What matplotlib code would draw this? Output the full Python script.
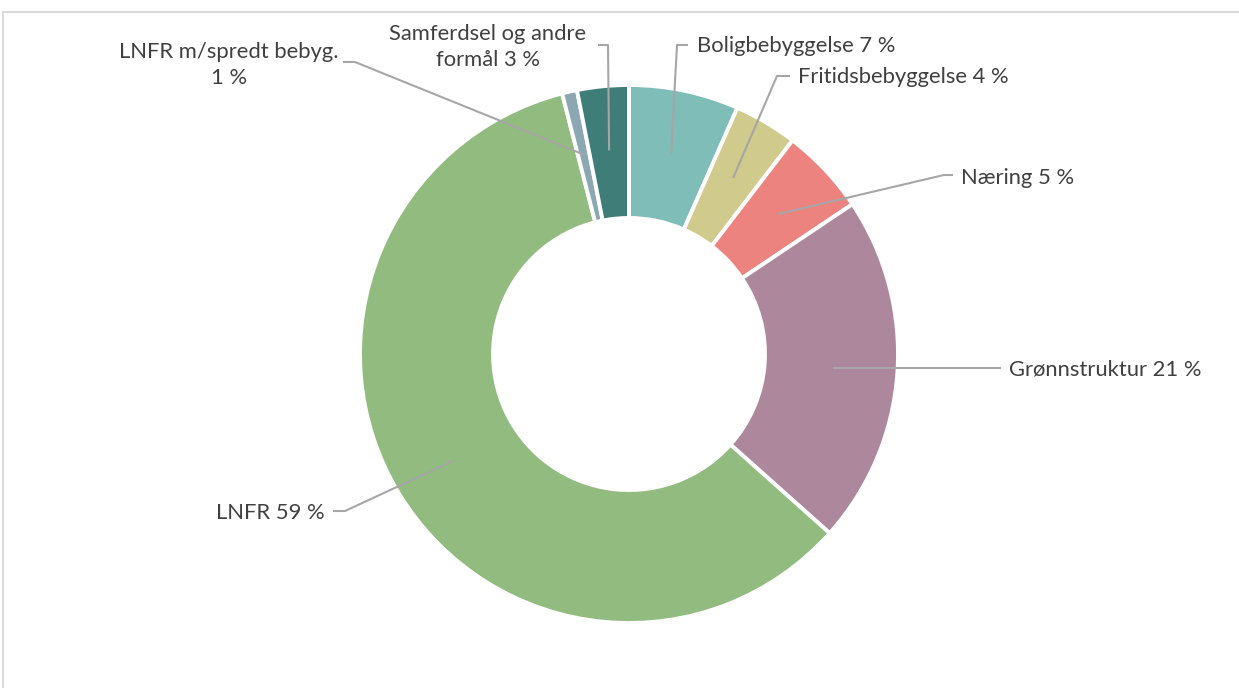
import matplotlib
matplotlib.use("Agg")
import matplotlib.pyplot as plt
import numpy as np

# Land-use shares (percent), clockwise from twelve o'clock
categories = ["Boligbebyggelse", "Fritidsbebyggelse", "Næring", "Grønnstruktur",
              "LNFR", "LNFR m/spredt bebyg.", "Samferdsel og andre formål"]
shares = [6.6, 3.8, 5.2, 21.0, 59.4, 0.9, 3.1]
label_names = ["Boligbebyggelse", "Fritidsbebyggelse", "Næring", "Grønnstruktur",
               "LNFR", "LNFR m/spredt bebyg.\n", "Samferdsel og andre\nformål"]
colors = ["#7fbdb9", "#d0ca8c", "#ec837e", "#ad879c",
          "#91bb7f", "#8ba7b2", "#3e7d78"]

W, H = 1239, 688
fig = plt.figure(figsize=(W / 100, H / 100), dpi=100)
ax = fig.add_axes([0, 0, 1, 1])

def py(y):
    """Convert a top-down pixel row to the upward axis coordinate."""
    return H - y

cx, cy = 629, py(354)
R, ring = 269, 133

wedges, _ = ax.pie(shares, colors=colors, startangle=90, counterclock=False,
                   radius=R, center=(cx, cy),
                   wedgeprops=dict(width=ring, edgecolor="white", linewidth=2.8))

# Label layout: (elbow x, elbow y, end x, text x, text y, ha); None = follow start height
layout = [
    (677, 45, 688, 697, 46, "left"),
    (777, 76, 790, 798, 77, "left"),
    (944, 175, 953, 961, 178, "left"),
    (1001, None, 1001, 1009, 370, "left"),
    (345, 511, 333, 325, 513, "right"),
    (355, 62, 343, 229, 65, "center"),
    (608, 45, 598, 488, 47, "center"),
]

line_col = "#a6a6a6"
text_col = "#404040"
r_mid = R - ring / 2 + 2
for w, name, v, (ex, ey, endx, tx, ty, ha) in zip(wedges, label_names, shares, layout):
    ang = np.deg2rad((w.theta1 + w.theta2) / 2)
    sx = cx + r_mid * np.cos(ang)
    sy = cy + r_mid * np.sin(ang)
    ey_ax = sy if ey is None else py(ey)
    ax.plot([sx, ex, endx], [sy, ey_ax, ey_ax], color=line_col, lw=1.5,
            solid_capstyle="butt", zorder=5)
    sep = "" if name.endswith("\n") else " "
    txt = f"{name}{sep}{v:.0f} %"
    ax.text(tx, py(ty), txt, ha=ha, va="center", color=text_col,
            fontsize=15.8, family="Lato", linespacing=1.42, multialignment="center")

# Chart area border (top and left edges)
ax.plot([3, W], [py(12), py(12)], color="#d9d9d9", lw=1.5)
ax.plot([3, 3], [py(12), 0], color="#d9d9d9", lw=1.5)

ax.set_xlim(0, W)
ax.set_ylim(0, H)
ax.set_aspect("auto")
ax.axis("off")

fig.savefig("out.png", dpi=100, facecolor="white")
